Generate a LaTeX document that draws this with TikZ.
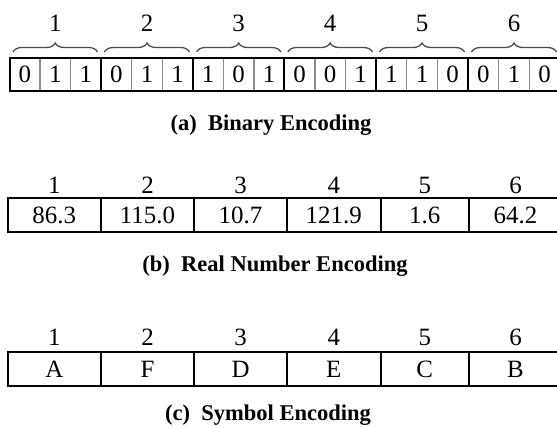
\documentclass[tikz,border=0pt]{standalone}
\usepackage{fontspec}
\setmainfont{Liberation Serif}
\usetikzlibrary{decorations.pathreplacing}

\colorlet{gcol}{black!45}
\colorlet{bcol}{black!70}
\tikzstyle{cell}=[inner sep=0pt,font=\fontsize{25}{28}\selectfont]
\tikzstyle{caption}=[inner sep=0pt,anchor=base,font=\fontsize{22.6}{26}\selectfont\bfseries]
\tikzstyle{frame}=[line width=2bp]
\tikzstyle{sepline}=[gcol,line width=1.5bp]
\tikzstyle{grp}=[bcol,line width=1.3bp,decorate,decoration={brace,amplitude=9bp}]

\begin{document}
\begin{tikzpicture}[x=1bp,y=-1bp]
  \useasboundingbox (0,0) rectangle (557,427);
  \clip (0,0) rectangle (557,427);
  \def\xr{562} % right edge, outside the page

  % BINARY
  \def\yt{58} \def\yb{91}
  \foreach \g/\xa/\xb/\bits in {1/9.5/101/{0,1,1}, 2/101/193/{0,1,1}, 3/193/284.3/{1,0,1},
                                4/284.3/376/{0,0,1}, 5/376/468/{1,1,0}, 6/468/560/{0,1,0}} {
    \foreach \b [count=\k from 0] in \bits
      \node[cell] (bin\g\k) at ({\xa+(\k+0.5)*(\xb-\xa)/3},{(\yt+\yb)/2}) {\b};
    \draw[sepline] ({\xa+(\xb-\xa)/3},\yt) -- ({\xa+(\xb-\xa)/3},\yb)
                   ({\xa+2*(\xb-\xa)/3},\yt) -- ({\xa+2*(\xb-\xa)/3},\yb);
    \draw[frame] (\xa,\yt) -- (\xa,\yb);
    \draw[grp] (\xa+3.5,52) -- (\xb-3.5,52);
    \node[cell] (binlbl\g) at ({(\xa+\xb)/2},23) {\g};
  }
  \draw[frame] (9.5,\yt) rectangle (\xr,\yb);
  \node[caption] (capa) at (271,130) {(a)\ \ Binary Encoding};

  % REAL NUMBER
  \def\yt{198} \def\yb{232}
  \foreach \g/\xa/\xb/\v in {1/7.5/101/86.3, 2/101/194/115.0, 3/194/287/10.7,
                             4/287/380.5/121.9, 5/380.5/469/1.6, 6/469/\xr/64.2} {
    \node[cell] (real\g) at ({(\xa+\xb)/2},{(\yt+\yb)/2}) {\v};
    \node[cell] (reallbl\g) at ({(\xa+\xb)/2},185) {\g};
    \draw[frame] (\xa,\yt) -- (\xa,\yb);
  }
  \draw[frame] (7.5,\yt) rectangle (\xr,\yb);
  \node[caption] (capb) at (275,271) {(b)\ \ Real Number Encoding};

  % SYMBOL
  \def\yt{352} \def\yb{386}
  \foreach \g/\xa/\xb/\v in {1/7.5/101/A, 2/101/194/F, 3/194/287/D,
                             4/287/380.5/E, 5/380.5/469/C, 6/469/\xr/B} {
    \node[cell] (sym\g) at ({(\xa+\xb)/2},{(\yt+\yb)/2}) {\v};
    \node[cell] (symlbl\g) at ({(\xa+\xb)/2},337) {\g};
    \draw[frame] (\xa,\yt) -- (\xa,\yb);
  }
  \draw[frame] (7.5,\yt) rectangle (\xr,\yb);
  \node[caption] (capc) at (268,420) {(c)\ \ Symbol Encoding};
\end{tikzpicture}
\end{document}
